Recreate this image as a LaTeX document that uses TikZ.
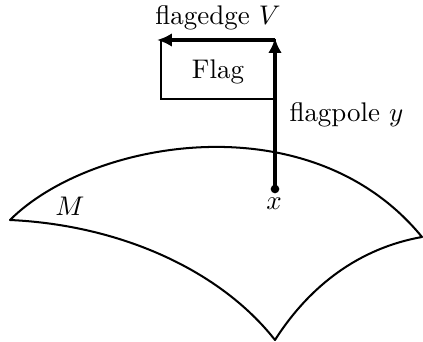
\documentclass[tikz,border=0pt]{standalone}
\usetikzlibrary{arrows.meta}
\begin{document}
\begin{tikzpicture}[x=0.371pt,y=-0.371pt,
  surf/.style={line width=0.75pt,line join=round},
  pole/.style={line width=1.2pt,-{Latex[length=5.5pt,width=5pt]}},
  flagbox/.style={draw,line width=0.4pt}]
\useasboundingbox (0,0) rectangle (423,342);
% surface M
\coordinate (L) at (10,220);
\coordinate (R) at (422,237);
\coordinate (B) at (275,340);
\draw[surf] (L) .. controls (90,140) and (310,100) .. (R)
  .. controls (360,248) and (310,285) .. (B)
  .. controls (220,270) and (120,225) .. cycle;
\node (M) at (70,206) {$M$};
% flag
\draw[flagbox] (161,40) rectangle (275,99);
\node (flag) at (218,72) {Flag};
% pole and edge
\coordinate (x) at (275,189);
\coordinate (top) at (275,38);
\coordinate (corner) at (275,40);
\coordinate (edge) at (157,40);
\draw[pole] (x) -- (top);
\draw[pole] (corner) -- (edge);
\fill (x) circle (1.6pt);
\node[inner sep=0pt] (xl) at (274,204) {$x$};
\node[anchor=west] (fp) at (280,115) {flagpole $y$};
\node (fe) at (218,18) {flagedge $V$};
\end{tikzpicture}
\end{document}
